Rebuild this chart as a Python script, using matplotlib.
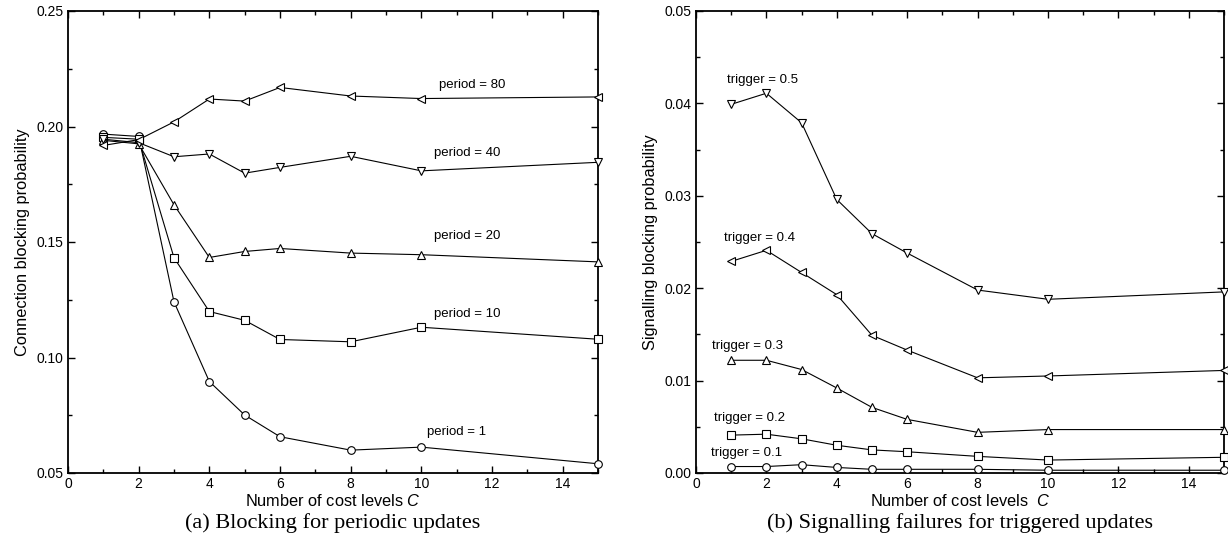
import matplotlib
matplotlib.use("Agg")
import matplotlib.pyplot as plt
from matplotlib.ticker import MultipleLocator, FormatStrFormatter

plt.rcParams['font.family'] = ['Liberation Sans', 'DejaVu Sans']
plt.rcParams['mathtext.fontset'] = 'custom'
plt.rcParams['mathtext.it'] = 'Liberation Sans:italic'
plt.rcParams['mathtext.rm'] = 'Liberation Sans'

# ---- data ----
cost_levels = [1, 2, 3, 4, 5, 6, 8, 10, 15]

period_labels = ["period = 1", "period = 10", "period = 20", "period = 40", "period = 80"]
period_1 = [0.1967, 0.1957, 0.1241, 0.0896, 0.0751, 0.0657, 0.0599, 0.0612, 0.0540]
period_10 = [0.1953, 0.1945, 0.1432, 0.1199, 0.1161, 0.1078, 0.1068, 0.1131, 0.1079]
period_20 = [0.1940, 0.1925, 0.1661, 0.1433, 0.1459, 0.1472, 0.1452, 0.1445, 0.1414]
period_40 = [0.1945, 0.1930, 0.1869, 0.1881, 0.1798, 0.1823, 0.1871, 0.1808, 0.1845]
period_80 = [0.1918, 0.1943, 0.2020, 0.2119, 0.2110, 0.2169, 0.2132, 0.2121, 0.2128]
period_label_pos = [(11.0, 0.0676), (11.3, 0.1187), (11.3, 0.1524), (11.3, 0.1885), (11.45, 0.2179)]

trigger_labels = ["trigger = 0.1", "trigger = 0.2", "trigger = 0.3", "trigger = 0.4", "trigger = 0.5"]
trigger_01 = [0.0007, 0.0007, 0.0009, 0.0006, 0.0004, 0.0004, 0.0004, 0.0003, 0.0003]
trigger_02 = [0.0041, 0.0042, 0.0037, 0.0030, 0.0025, 0.0023, 0.0018, 0.0014, 0.0017]
trigger_03 = [0.0122, 0.0122, 0.0112, 0.0092, 0.0071, 0.0058, 0.0044, 0.0047, 0.0047]
trigger_04 = [0.0229, 0.0241, 0.0217, 0.0193, 0.0149, 0.0133, 0.0103, 0.0105, 0.0111]
trigger_05 = [0.0399, 0.0411, 0.0379, 0.0296, 0.0259, 0.0238, 0.0198, 0.0188, 0.0196]
trigger_label_pos = [(1.44, 0.0022), (1.52, 0.0060), (1.45, 0.0137), (1.81, 0.0254), (1.9, 0.0425)]

markers = ['o', 's', '^', 'v', '<']
markers_b = ['o', 's', '^', '<', 'v']

fig = plt.figure(figsize=(12.28, 5.35), dpi=100)
axa = fig.add_axes([68/1228, 62/535, 530/1228, 462/535])
axb = fig.add_axes([696/1228, 62/535, 528/1228, 462/535])

def style(ax):
    ax.set_xlim(0, 15)
    ax.xaxis.set_major_locator(MultipleLocator(2))
    ax.xaxis.set_minor_locator(MultipleLocator(1))
    ax.tick_params(which='both', direction='in', top=True, right=True,
                   labelsize=10, width=1.0, pad=3)
    ax.tick_params(which='major', length=5)
    ax.tick_params(which='minor', length=3)
    for s in ax.spines.values():
        s.set_linewidth(1.3)

mk = dict(color='black', lw=0.8, markersize=5.5, markerfacecolor='white',
          markeredgecolor='black', markeredgewidth=0.8, clip_on=False, zorder=3)

for ys, m, lab, pos in zip([period_1, period_10, period_20, period_40, period_80],
                           markers, period_labels, period_label_pos):
    axa.plot(cost_levels, ys, marker=m, **mk)
    axa.text(pos[0], pos[1], lab, ha='center', va='center', fontsize=9.5)
style(axa)
axa.set_ylim(0.05, 0.25)
axa.yaxis.set_major_locator(MultipleLocator(0.05))
axa.yaxis.set_minor_locator(MultipleLocator(0.025))
axa.yaxis.set_major_formatter(FormatStrFormatter('%.2f'))
axa.set_ylabel('Connection blocking probability', fontsize=11.8, labelpad=5)
axa.set_xlabel('Number of cost levels $C$', fontsize=11.8, labelpad=1)

for ys, m, lab, pos in zip([trigger_01, trigger_02, trigger_03, trigger_04, trigger_05],
                           markers_b, trigger_labels, trigger_label_pos):
    axb.plot(cost_levels, ys, marker=m, **mk)
    axb.text(pos[0], pos[1], lab, ha='center', va='center', fontsize=9.5)
style(axb)
axb.set_ylim(0.0, 0.05)
axb.yaxis.set_major_locator(MultipleLocator(0.01))
axb.yaxis.set_minor_locator(MultipleLocator(0.005))
axb.yaxis.set_major_formatter(FormatStrFormatter('%.2f'))
axb.set_ylabel('Signalling blocking probability', fontsize=11.8, labelpad=5)
axb.set_xlabel('Number of cost levels  $C$', fontsize=11.8, labelpad=1)

fig.text((68 + 598) / 2 / 1228, 0.022, '(a) Blocking for periodic updates',
         ha='center', va='center', fontsize=16, family='Liberation Serif')
fig.text((696 + 1224) / 2 / 1228, 0.022, '(b) Signalling failures for triggered updates',
         ha='center', va='center', fontsize=16, family='Liberation Serif')

fig.savefig('out.png', dpi=100)
